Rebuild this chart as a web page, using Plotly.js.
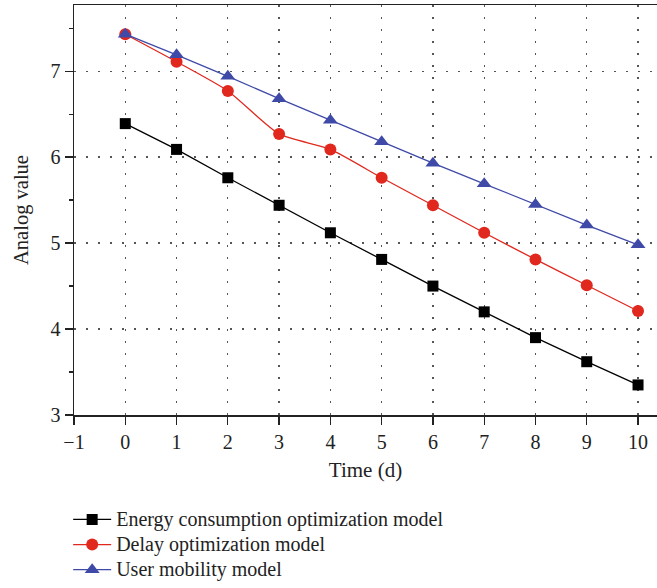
<!DOCTYPE html>
<html>
<head>
<meta charset="utf-8">
<script src="https://cdn.plot.ly/plotly-3.0.1.min.js"></script>
<style>
html,body{margin:0;padding:0;background:#fff;}
#chart{width:657px;height:588px;}
.legendtext{font-size:20px !important;}
</style>
</head>
<body>
<div id="chart"></div>
<script>
var days = [0, 1, 2, 3, 4, 5, 6, 7, 8, 9, 10];
var energyModel = [6.39, 6.09, 5.76, 5.44, 5.12, 4.81, 4.50, 4.20, 3.90, 3.62, 3.35];
var delayModel = [7.43, 7.11, 6.77, 6.27, 6.09, 5.76, 5.44, 5.12, 4.81, 4.51, 4.21];
var mobilityModel = [7.43, 7.19, 6.94, 6.68, 6.43, 6.18, 5.93, 5.69, 5.45, 5.21, 4.98];
var seriesNames = ["Energy consumption optimization model", "Delay optimization model", "User mobility model"];
var xTicks = [-1, 0, 1, 2, 3, 4, 5, 6, 7, 8, 9, 10];
var yTicks = [3, 4, 5, 6, 7];

var font = "Liberation Serif, Times New Roman, serif";
var traces = [
  {x: days, y: energyModel, name: seriesNames[0], mode: "lines+markers", type: "scatter",
   line: {color: "#000000", width: 1.3}, marker: {symbol: "square", size: 11, color: "#000000"}},
  {x: days, y: delayModel, name: seriesNames[1], mode: "lines+markers", type: "scatter",
   line: {color: "#e0281e", width: 1.3, shape: "spline", smoothing: 0.6}, marker: {symbol: "circle", size: 12, color: "#e0281e"}},
  {x: days, y: mobilityModel, name: seriesNames[2], mode: "lines+markers", type: "scatter",
   line: {color: "#3f4aa8", width: 1.3}, marker: {symbol: "triangle-up", size: 13, color: "#3f4aa8"}}
];
var layout = {
  width: 657, height: 588,
  margin: {l: 74, r: 0, t: 5, b: 173},
  paper_bgcolor: "#ffffff", plot_bgcolor: "#ffffff",
  font: {family: font, size: 19, color: "#222"},
  showlegend: true,
  legend: {x: -0.01, xanchor: "left", y: -0.212, yanchor: "top", font: {family: font, size: 17, color: "#222"},
    bgcolor: "rgba(0,0,0,0)", tracegroupgap: 0, itemwidth: 38},
  xaxis: {range: [-1, 10.37], tickvals: xTicks, ticktext: xTicks.map(function(v){return v < 0 ? "\u2212" + (-v) : String(v);}),
    showline: true, linecolor: "#222", linewidth: 1.5, mirror: true,
    ticks: "outside", ticklen: 8, tickwidth: 1.3, tickcolor: "#222",
    showgrid: true, gridcolor: "#555", griddash: "1.5px,10.5px", gridwidth: 1.3, zeroline: false,
    title: {text: "Time (d)", font: {family: font, size: 21, color: "#222"}, standoff: 11},
    tickfont: {family: font, size: 20, color: "#222"}},
  yaxis: {range: [3, 7.77], tickvals: yTicks,
    showline: true, linecolor: "#222", linewidth: 1.5, mirror: false,
    ticks: "outside", ticklen: 8, tickwidth: 1.3, tickcolor: "#222",
    minor: {dtick: 0.5, tick0: 3, ticks: "outside", ticklen: 4, tickwidth: 1.3, tickcolor: "#222", showgrid: false},
    showgrid: true, gridcolor: "#555", griddash: "1.5px,10.5px", gridwidth: 1.3, zeroline: false,
    title: {text: "Analog value", font: {family: font, size: 20.5, color: "#222"}, standoff: 16},
    tickfont: {family: font, size: 20, color: "#222"}}
};
Plotly.newPlot("chart", traces, layout, {displayModeBar: false, staticPlot: true});
</script>
</body>
</html>
